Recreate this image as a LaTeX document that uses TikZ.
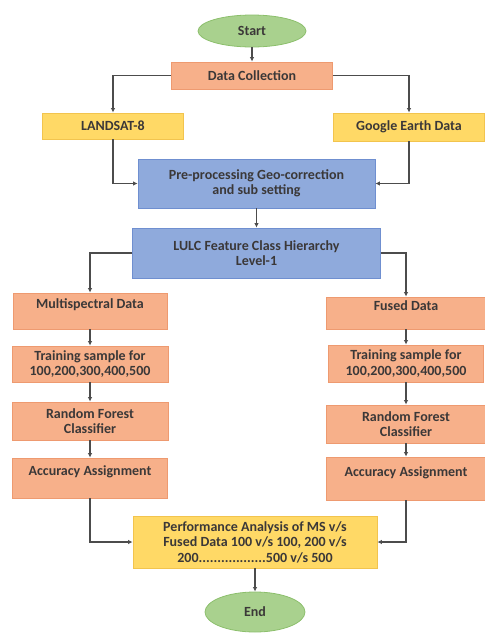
\documentclass[tikz,border=0pt]{standalone}
\usepackage{fontspec}
\setmainfont{Carlito}
\usepackage{xcolor}
\usetikzlibrary{positioning, arrows.meta, shapes}

\definecolor{startgreen}{HTML}{A9D18E}
\definecolor{greenline}{HTML}{8CBF6C}
\definecolor{salmon}{HTML}{F7B08A}
\definecolor{salmonline}{HTML}{EE9A70}
\definecolor{paleyellow}{HTML}{FFD966}
\definecolor{yellowline}{HTML}{F2C44E}
\definecolor{steelblue}{HTML}{8FAADC}
\definecolor{blueline}{HTML}{6F8FD0}
\definecolor{textgray}{HTML}{3B3838}

\tikzset{
    box/.style={rectangle, draw, line width=0.8pt, align=center, inner sep=2pt,
        font=\fontsize{14}{15.5}\selectfont\bfseries, text=textgray},
    terminal/.style={ellipse, draw=greenline, fill=startgreen, line width=0.8pt,
        font=\fontsize{14}{15.5}\selectfont\bfseries, text=textgray},
    orangebox/.style={box, draw=salmonline, fill=salmon},
    yellowbox/.style={box, draw=yellowline, fill=paleyellow},
    bluebox/.style={box, draw=blueline, fill=steelblue},
    topline/.style={text depth=14pt},
    flow/.style={draw=black!70, line width=1.2pt, -{Latex[length=4.5pt,width=4.5pt]}}
}

\begin{document}
\begin{tikzpicture}[x=1pt, y=-1pt]
    \useasboundingbox (0,0) rectangle (485,633);

    \node[terminal, minimum width=108, minimum height=32] (start) at (252,31) {Start};
    \node[orangebox, minimum width=161, minimum height=27] (collect) at (252,75.5) {Data Collection};

    \node[yellowbox, minimum width=141, minimum height=26] (landsat) at (113,126) {LANDSAT-8};
    \node[yellowbox, minimum width=151, minimum height=28] (google) at (409,127) {Google Earth Data};

    \node[bluebox, minimum width=237, minimum height=49] (preproc) at (256.5,183.5)
        {Pre-processing Geo-correction\\and sub setting};
    \node[bluebox, minimum width=248, minimum height=50] (lulc) at (256.5,253)
        {LULC Feature Class Hierarchy\\Level-1};

    % left branch
    \node[orangebox, topline, minimum width=154, minimum height=36] (multi) at (90,311) {Multispectral Data};
    \node[orangebox, minimum width=156, minimum height=36] (trainms) at (90,364)
        {Training sample for\\100,200,300,400,500};
    \node[orangebox, minimum width=156, minimum height=38] (rfms) at (90,421)
        {Random Forest\\Classifier};
    \node[orangebox, topline, minimum width=155, minimum height=40] (accms) at (90,478) {Accuracy Assignment};

    % right branch
    \node[orangebox, topline, minimum width=159, minimum height=32] (fused) at (406,313) {Fused Data};
    \node[orangebox, minimum width=155, minimum height=37] (trainfd) at (406,363.5)
        {Training sample for\\100,200,300,400,500};
    \node[orangebox, minimum width=160, minimum height=38] (rffd) at (406,424)
        {Random Forest\\Classifier};
    \node[orangebox, topline, minimum width=159, minimum height=43] (accfd) at (406,478.5) {Accuracy Assignment};

    \node[yellowbox, minimum width=244, minimum height=52] (perf) at (255,542)
        {Performance Analysis of MS v/s\\Fused Data 100 v/s 100, 200 v/s\\200..................500 v/s 500};
    \node[terminal, minimum width=100, minimum height=40] (end) at (255,612) {End};

    \draw[flow] (start) -- (collect);
    \draw[flow] (collect.west) -| (landsat.north);
    \draw[flow] (collect.east) -| (google.north);
    \draw[flow] (landsat.south) |- (preproc.west);
    \draw[flow] (google.south) |- (preproc.east);
    \draw[flow] (preproc) -- (lulc);
    \draw[flow] (lulc.west) -| (multi.north);
    \draw[flow] (lulc.east) -| (fused.north);

    \draw[flow] (multi) -- (trainms);
    \draw[flow] (trainms) -- (rfms);
    \draw[flow] (rfms) -- (accms);
    \draw[flow] (fused) -- (trainfd);
    \draw[flow] (trainfd) -- (rffd);
    \draw[flow] (rffd) -- (accfd);

    \draw[flow] (accms.south) |- (perf.west);
    \draw[flow] (accfd.south) |- (perf.east);
    \draw[flow] (perf) -- (end);
\end{tikzpicture}
\end{document}
